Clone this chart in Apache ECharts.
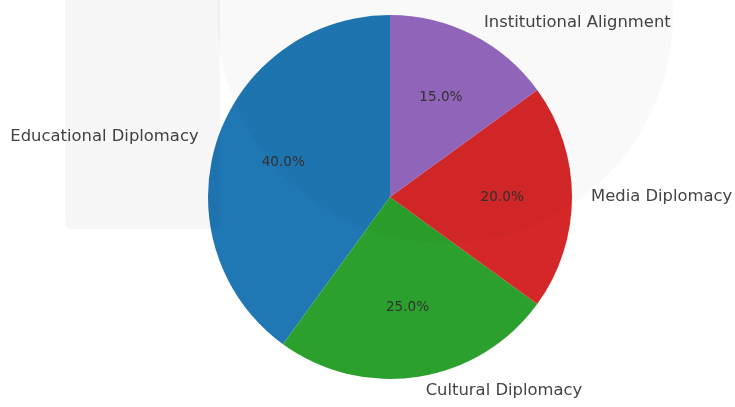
<!DOCTYPE html>
<html>
<head>
<meta charset="utf-8">
<script src="https://cdn.jsdelivr.net/npm/echarts@6/dist/echarts.min.js"></script>
<style>
html,body{margin:0;padding:0;background:#fff;}
#chart{width:735px;height:407px;}
</style>
</head>
<body>
<div id="chart"></div>
<script>
const categories = ['Educational Diplomacy', 'Cultural Diplomacy', 'Media Diplomacy', 'Institutional Alignment'];
const values = [40, 25, 20, 15];
const colors = ['#1f77b4', '#2ca02c', '#d62728', '#9467bd'];

const chart = echarts.init(document.getElementById('chart'), null, {renderer: 'canvas'});
const R = 182;
const cx = 390, cy = 197;
const data = categories.map((c, i) => ({name: c, value: values[i], itemStyle: {color: colors[i]}}));
const dataT = categories.map((c, i) => ({name: c, value: values[i]}));

chart.setOption({
  backgroundColor: '#ffffff',
  animation: false,
  graphic: [
    {type: 'rect', z: 100, silent: true, shape: {x: 65, y: -10, width: 155, height: 239, r: 6}, style: {fill: 'rgba(0,0,0,0.03)'}},
    {type: 'circle', z: 100, silent: true, shape: {cx: 445, cy: 15, r: 228}, style: {fill: 'rgba(0,0,0,0.025)'}}
  ],
  series: [
    {
      type: 'pie',
      center: [cx, cy],
      radius: [0, R],
      startAngle: 90,
      clockwise: false,
      avoidLabelOverlap: false,
      silent: true,
      data: data,
      itemStyle: {borderWidth: 0},
      label: {
        show: true,
        position: 'outside',
        fontFamily: 'DejaVu Sans',
        fontSize: 16.4,
        color: '#444444',
        formatter: '{b}'
      },
      labelLine: {show: false, length: 14, length2: 0}
    },
    {
      type: 'pie',
      center: [cx, cy],
      radius: [R * 0.2, R],
      startAngle: 90,
      clockwise: false,
      avoidLabelOverlap: false,
      silent: true,
      data: dataT,
      itemStyle: {color: 'rgba(0,0,0,0)', borderWidth: 0},
      label: {
        show: true,
        position: 'inside',
        fontFamily: 'DejaVu Sans',
        fontSize: 13.6,
        color: '#333333',
        formatter: p => p.percent.toFixed(1) + '%'
      },
      labelLine: {show: false}
    }
  ]
});
</script>
</body>
</html>
